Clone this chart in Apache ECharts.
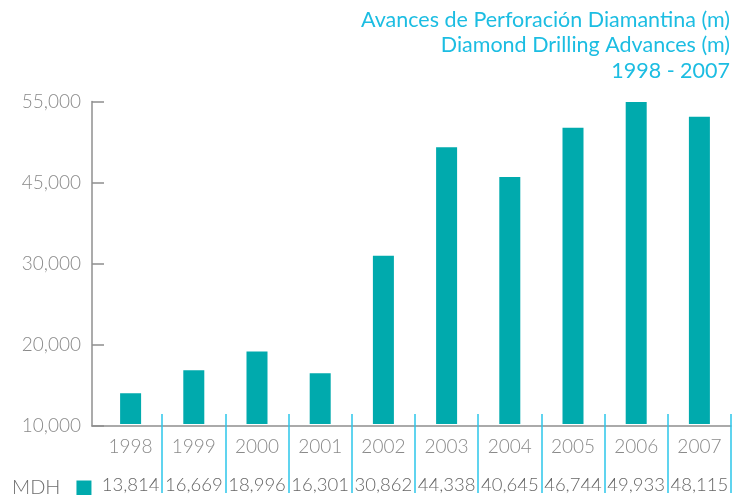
<!DOCTYPE html>
<html>
<head>
<meta charset="utf-8">
<script src="https://cdn.jsdelivr.net/npm/echarts@6/dist/echarts.min.js"></script>
<style>
  html, body { margin: 0; padding: 0; background: #fff; }
  #chart { width: 734px; height: 495px; }
</style>
</head>
<body>
<div id="chart"></div>
<script>
const years = ['1998', '1999', '2000', '2001', '2002', '2003', '2004', '2005', '2006', '2007']
const mdh = [13814, 16669, 18996, 16301, 30862, 44338, 40645, 46744, 49933, 48115]
// the printed axis labels (as they appear in the original)
const yTickLabels = ['10,000', '20,000', '30,000', '45,000', '55,000']
const titleLines = ['Avances de Perforación Diamantina (m)', 'Diamond Drilling Advances (m)', '1998 - 2007']
const yMin = 10000
const yMax = 50000
const yStep = 10000

const FONT = 'Lato'
const TEAL = '#00aaad'
const CYAN = '#1cbde2'
const GREY = '#8a8a8a'

const chart = echarts.init(document.getElementById('chart'))

const option = {
  animation: false,
  // one title per line so each one sits flush right
  title: titleLines.map((t, i) => ({
    text: t,
    right: 4,
    top: 9 + i * 25.5,
    padding: 0,
    textStyle: {
      color: CYAN,
      fontFamily: FONT,
      fontSize: 21.5,
      fontWeight: 'normal'
    }
  })),
  legend: { // MDH + teal square
    left: 12,
    top: 478,
    padding: 0,
    align: 'right',
    icon: 'rect',
    itemWidth: 15,
    itemHeight: 15,
    textStyle: {
      color: '#6e6e6e',
      fontFamily: FONT,
      fontSize: 20,
      fontWeight: 300,
      lineHeight: 15,
      padding: [0, 11, 0, 0]
    },
    data: ['MDH']
  },
  grid: [
    { left: 99, right: 3, top: 101.5, bottom: 69 },
    { left: 92, right: 3, top: 101.5, bottom: 69 }
  ],
  xAxis: [
    { // years
      type: 'category',
      gridIndex: 0,
      data: years,
      axisLine: { show: false },
      axisTick: { show: false },
      axisLabel: {
        color: GREY,
        fontFamily: FONT,
        fontSize: 19,
        fontWeight: 300,
        margin: 13,
        interval: 0
      }
    },
    { // value row + separators
      type: 'category',
      gridIndex: 0,
      position: 'bottom',
      offset: 69,
      data: mdh.map(v => v.toLocaleString('en-US')),
      axisLine: { show: false },
      axisTick: {
        show: true,
        inside: true,
        length: 79,
        interval: (i) => i > 0,
        lineStyle: { color: '#2cc6ea', width: 1.5 }
      },
      axisLabel: {
        color: '#666',
        fontFamily: FONT,
        fontSize: 18.5,
        fontWeight: 300,
        margin: -17,
        interval: 0,
        hideOverlap: false
      }
    },
    { // x axis line starting at the y axis
      type: 'value',
      gridIndex: 1,
      min: 0,
      max: 1,
      axisLine: { show: true, lineStyle: { color: '#8f8f8f', width: 1.5 } },
      axisTick: { show: false },
      axisLabel: { show: false },
      splitLine: { show: false }
    }
  ],
  yAxis: [
    {
      type: 'value',
      gridIndex: 0,
      min: yMin,
      max: yMax,
      interval: yStep,
      show: false
    },
    {
      type: 'value',
      gridIndex: 1,
      min: yMin,
      max: yMax,
      interval: yStep,
      axisLine: { show: true, lineStyle: { color: '#8f8f8f', width: 1.5 } },
      axisTick: { show: true, inside: true, length: 12, lineStyle: { color: '#8f8f8f', width: 1.5 } },
      splitLine: { show: false },
      axisLabel: {
        color: GREY,
        fontFamily: FONT,
        fontSize: 19,
        fontWeight: 300,
        margin: 11,
        padding: [8, 0, 0, 0],
        formatter: (v) => yTickLabels[Math.round((v - yMin) / yStep)]
      }
    }
  ],
  series: [
    {
      name: 'MDH',
      type: 'bar',
      xAxisIndex: 0,
      yAxisIndex: 0,
      data: mdh,
      barWidth: 21,
      itemStyle: { color: TEAL }
    }
  ]
}

chart.setOption(option)
</script>
</body>
</html>
